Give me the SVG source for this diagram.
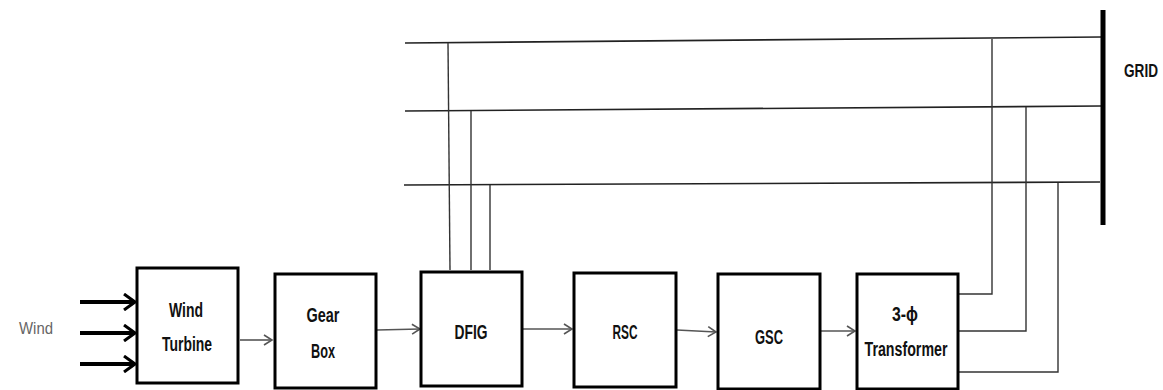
<svg xmlns="http://www.w3.org/2000/svg" width="1163" height="390" viewBox="0 0 1163 390">
<style>
.box{fill:#fff;stroke:#000;stroke-width:3}
.lbl{font-family:"Liberation Sans",sans-serif;font-weight:bold;font-size:20px;fill:#111;text-anchor:middle}
.bus{stroke:#222;stroke-width:1.6;fill:none}
.tap{stroke:#333;stroke-width:1.4;fill:none}
.flow{stroke:#555;stroke-width:1.6;fill:none;marker-end:url(#open)}
.wind{stroke:#000;stroke-width:4;fill:none;marker-end:url(#openb)}
</style>
<defs>
<marker id="open" markerWidth="12" markerHeight="12" refX="10" refY="6" orient="auto" markerUnits="userSpaceOnUse">
<path d="M2,1 L10,6 L2,11" fill="none" stroke="#555" stroke-width="1.6"/>
</marker>
<marker id="openb" markerWidth="16" markerHeight="18" refX="14" refY="9" orient="auto" markerUnits="userSpaceOnUse">
<path d="M3,1 L14,9 L3,17" fill="none" stroke="#000" stroke-width="3"/>
</marker>
</defs>
<g id="connectors">
<line class="bus" x1="405" y1="43" x2="1101" y2="37"/>
<line class="bus" x1="405" y1="111" x2="1101" y2="106"/>
<line class="bus" x1="404" y1="185" x2="1100" y2="182"/>
<polyline class="tap" points="448,43 450,270"/>
<polyline class="tap" points="471,111 471,270"/>
<polyline class="tap" points="490,185 490,270"/>
<polyline class="tap" points="992,39 992,294 959,294"/>
<polyline class="tap" points="1026,107 1026,331 959,331"/>
<polyline class="tap" points="1058,183 1058,372 959,372"/>
<line class="wind" x1="80" y1="302" x2="135" y2="302"/>
<line class="wind" x1="80" y1="333" x2="135" y2="333"/>
<line class="wind" x1="80" y1="364" x2="135" y2="364"/>
<line class="flow" x1="240" y1="340" x2="272" y2="340"/>
<line class="flow" x1="377" y1="330" x2="420" y2="329"/>
<line class="flow" x1="523" y1="329" x2="572" y2="329"/>
<line class="flow" x1="677" y1="330" x2="716" y2="332"/>
<line class="flow" x1="821" y1="331" x2="855" y2="331"/>
</g>
<g id="wind-label"><text x="36" y="334" textLength="34" lengthAdjust="spacingAndGlyphs" style="font-family:'Liberation Sans',sans-serif;font-size:16px;fill:#666;text-anchor:middle">Wind</text></g>
<g id="wind-turbine"><rect class="box" x="137" y="268" width="101" height="115"/><text class="lbl" x="186" y="317" textLength="34" lengthAdjust="spacingAndGlyphs">Wind</text><text class="lbl" x="187" y="351" textLength="50" lengthAdjust="spacingAndGlyphs">Turbine</text></g>
<g id="gear-box"><rect class="box" x="275" y="274" width="101" height="114"/><text class="lbl" x="323" y="322" textLength="33" lengthAdjust="spacingAndGlyphs">Gear</text><text class="lbl" x="323" y="358" textLength="24" lengthAdjust="spacingAndGlyphs">Box</text></g>
<g id="dfig"><rect class="box" x="421" y="272" width="101" height="114"/><text class="lbl" x="471" y="339" textLength="33" lengthAdjust="spacingAndGlyphs">DFIG</text></g>
<g id="rsc"><rect class="box" x="574" y="273" width="102" height="114"/><text class="lbl" x="625" y="339" textLength="25" lengthAdjust="spacingAndGlyphs">RSC</text></g>
<g id="gsc"><rect class="box" x="718" y="274" width="102" height="115"/><text class="lbl" x="769" y="344" textLength="28" lengthAdjust="spacingAndGlyphs">GSC</text></g>
<g id="transformer"><rect class="box" x="857" y="274" width="101" height="115"/><text class="lbl" x="905" y="321" textLength="26" lengthAdjust="spacingAndGlyphs">3-ϕ</text><text class="lbl" x="906" y="356" textLength="83" lengthAdjust="spacingAndGlyphs">Transformer</text></g>
<g id="grid"><line x1="1103" y1="10" x2="1103" y2="225" stroke="#000" stroke-width="5"/><text transform="translate(1124,77) scale(1,1.2)" x="0" y="0" textLength="34" lengthAdjust="spacingAndGlyphs" style="font-family:'Liberation Sans',sans-serif;font-weight:bold;font-size:15px;fill:#111">GRID</text></g>
</svg>
